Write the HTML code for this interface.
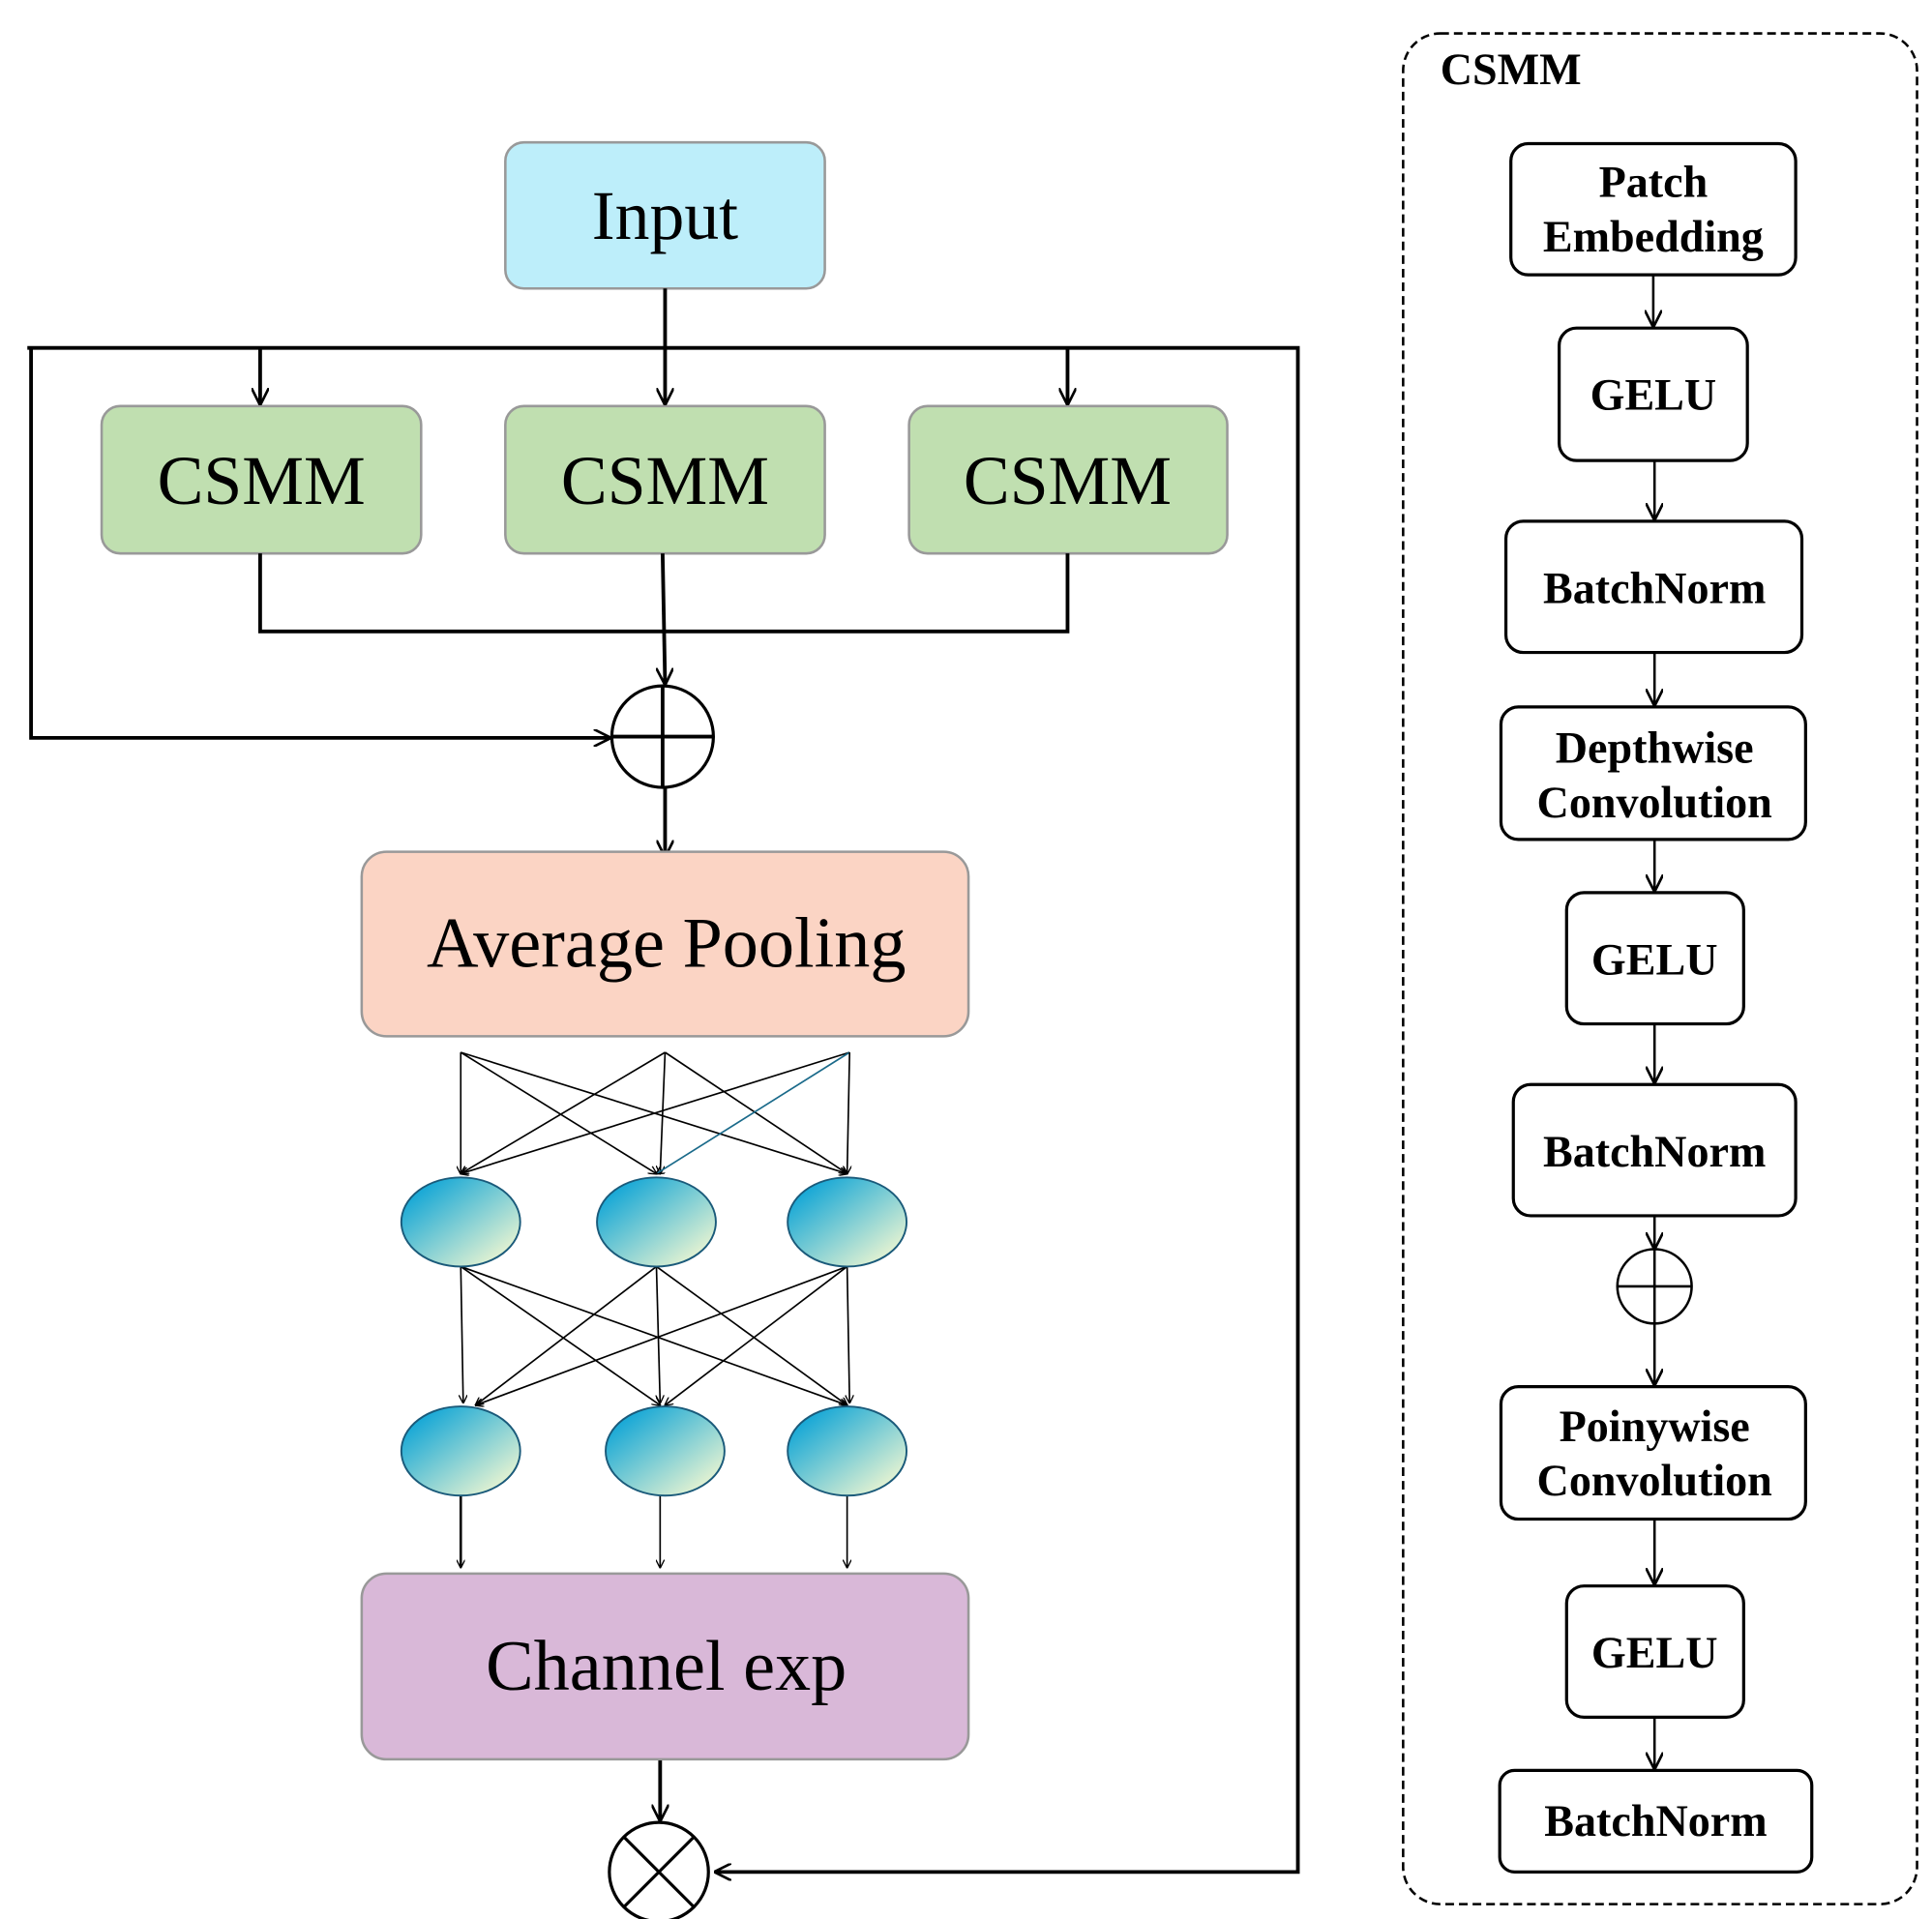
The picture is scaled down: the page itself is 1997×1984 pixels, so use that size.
<!DOCTYPE html>
<html><head><meta charset="utf-8"><style>html,body{margin:0;padding:0;background:#fff}svg{display:block}</style></head><body>
<svg width="1997" height="1984" viewBox="0 0 1560 1550" xmlns="http://www.w3.org/2000/svg">
<defs>
<marker id="a" viewBox="0 0 10 10" refX="9" refY="5" markerWidth="7" markerHeight="7" orient="auto" markerUnits="userSpaceOnUse"><path d="M0,0 L10,5 L0,10" fill="none" stroke="#000" stroke-width="1.5"/></marker>
<marker id="b" viewBox="0 0 10 10" refX="9" refY="5" markerWidth="14" markerHeight="14" orient="auto" markerUnits="userSpaceOnUse"><path d="M0,0 L10,5 L0,10" fill="none" stroke="#000" stroke-width="1.5"/></marker>
<linearGradient id="g" x1="0" y1="0" x2="1" y2="1"><stop offset="0.1" stop-color="#0aa3d6"/><stop offset="0.9" stop-color="#eef6d2"/></linearGradient>
</defs>
<g font-family="Liberation Serif, serif" text-anchor="middle">
<rect x="408" y="115" width="258" height="118" rx="15" fill="#bdeefa" stroke="#999" stroke-width="2"/>
<text x="537" y="193" font-size="56">Input</text>
<g fill="#c0dfb0" stroke="#999" stroke-width="2">
<rect x="82" y="328" width="258" height="119" rx="15"/><rect x="408" y="328" width="258" height="119" rx="15"/><rect x="734" y="328" width="257" height="119" rx="15"/></g>
<g font-size="56"><text x="211" y="407">CSMM</text><text x="537" y="407">CSMM</text><text x="862" y="407">CSMM</text></g>
<g stroke="#000" stroke-width="3" fill="none">
<path d="M22,281 H1048 V1512 H578" marker-end="url(#b)"/>
<path d="M25,281 V596 H492" marker-end="url(#b)"/>
<path d="M537,233 V326" marker-end="url(#b)"/>
<path d="M210,281 V326" marker-end="url(#b)"/>
<path d="M862,281 V326" marker-end="url(#b)"/>
<path d="M210,447 V510 H862 V447"/>
<path d="M535,447 L537,552" marker-end="url(#b)"/>
<circle cx="535" cy="595" r="41" stroke-width="2.5"/>
<path d="M494,595 H576 M535,554 V636"/>
<path d="M537,636 V691" marker-end="url(#b)"/>
<path d="M533,1421 V1470" marker-end="url(#b)"/>
<circle cx="532" cy="1512" r="40" stroke-width="2.5"/>
<path d="M504,1484 L560,1540 M560,1484 L504,1540" stroke-width="2.5"/>
</g>
<rect x="292" y="688" width="490" height="149" rx="20" fill="#fbd4c4" stroke="#999" stroke-width="2"/>
<text x="538" y="781" font-size="58">Average Pooling</text>
<rect x="292" y="1271" width="490" height="150" rx="20" fill="#d9b8d8" stroke="#999" stroke-width="2"/>
<text x="538" y="1365" font-size="58">Channel exp</text>
<g stroke="#000" stroke-width="1.3" fill="none" marker-end="url(#a)">
<path d="M372,850 L372,948"/><path d="M372,850 L530,948"/><path d="M372,850 L684,948"/>
<path d="M537,850 L372,948"/><path d="M537,850 L533,948"/><path d="M537,850 L684,948"/>
<path d="M686,850 L372,948"/><path d="M686,850 L530,948" stroke="#1a6a8a"/><path d="M686,850 L684,948"/>
<path d="M372,1023 L374,1133"/><path d="M372,1023 L533,1135"/><path d="M372,1023 L684,1135"/>
<path d="M530,1023 L384,1135"/><path d="M530,1023 L533,1133"/><path d="M530,1023 L684,1135"/>
<path d="M684,1023 L384,1135"/><path d="M684,1023 L537,1135"/><path d="M684,1023 L686,1133"/>
<path d="M372,1208 V1266" stroke-width="2"/><path d="M533,1208 V1266"/><path d="M684,1208 V1266"/>
</g>
<g fill="url(#g)" stroke="#1a5a7a" stroke-width="1.5">
<ellipse cx="372" cy="987" rx="48" ry="36"/><ellipse cx="530" cy="987" rx="48" ry="36"/><ellipse cx="684" cy="987" rx="48" ry="36"/>
<ellipse cx="372" cy="1172" rx="48" ry="36"/><ellipse cx="537" cy="1172" rx="48" ry="36"/><ellipse cx="684" cy="1172" rx="48" ry="36"/>
</g>
<rect x="1133" y="27" width="415" height="1511" rx="30" fill="none" stroke="#000" stroke-width="2" stroke-dasharray="7,4"/>
<text x="1220" y="68" font-size="36" font-weight="bold">CSMM</text>
<g fill="#fff" stroke="#000" stroke-width="2.5">
<rect x="1220" y="116" width="230" height="106" rx="14"/>
<rect x="1259" y="265" width="152" height="107" rx="14"/>
<rect x="1216" y="421" width="239" height="106" rx="14"/>
<rect x="1212" y="571" width="246" height="107" rx="14"/>
<rect x="1265" y="721" width="143" height="106" rx="14"/>
<rect x="1222" y="876" width="228" height="106" rx="14"/>
<rect x="1212" y="1120" width="246" height="107" rx="14"/>
<rect x="1265" y="1281" width="143" height="106" rx="14"/>
<rect x="1211" y="1430" width="252" height="82" rx="12"/>
</g>
<g font-size="36" font-weight="bold">
<text x="1335" y="159">Patch</text><text x="1335" y="203">Embedding</text>
<text x="1335" y="331">GELU</text>
<text x="1336" y="487">BatchNorm</text>
<text x="1336" y="616">Depthwise</text><text x="1336" y="660">Convolution</text>
<text x="1336" y="787">GELU</text>
<text x="1336" y="942">BatchNorm</text>
<text x="1336" y="1164">Poinywise</text><text x="1336" y="1208">Convolution</text>
<text x="1336" y="1347">GELU</text>
<text x="1337" y="1483">BatchNorm</text>
</g>
<g stroke="#000" stroke-width="2" fill="none">
<path d="M1335,222 V263" marker-end="url(#b)"/>
<path d="M1336,372 V419" marker-end="url(#b)"/>
<path d="M1336,527 V569" marker-end="url(#b)"/>
<path d="M1336,678 V719" marker-end="url(#b)"/>
<path d="M1336,827 V874" marker-end="url(#b)"/>
<path d="M1336,982 V1008" marker-end="url(#b)"/>
<circle cx="1336" cy="1039" r="30"/>
<path d="M1306,1039 H1366 M1336,1009 V1069"/>
<path d="M1336,1069 V1118" marker-end="url(#b)"/>
<path d="M1336,1227 V1279" marker-end="url(#b)"/>
<path d="M1336,1387 V1428" marker-end="url(#b)"/>
</g>
</g>
</svg>
</body></html>
